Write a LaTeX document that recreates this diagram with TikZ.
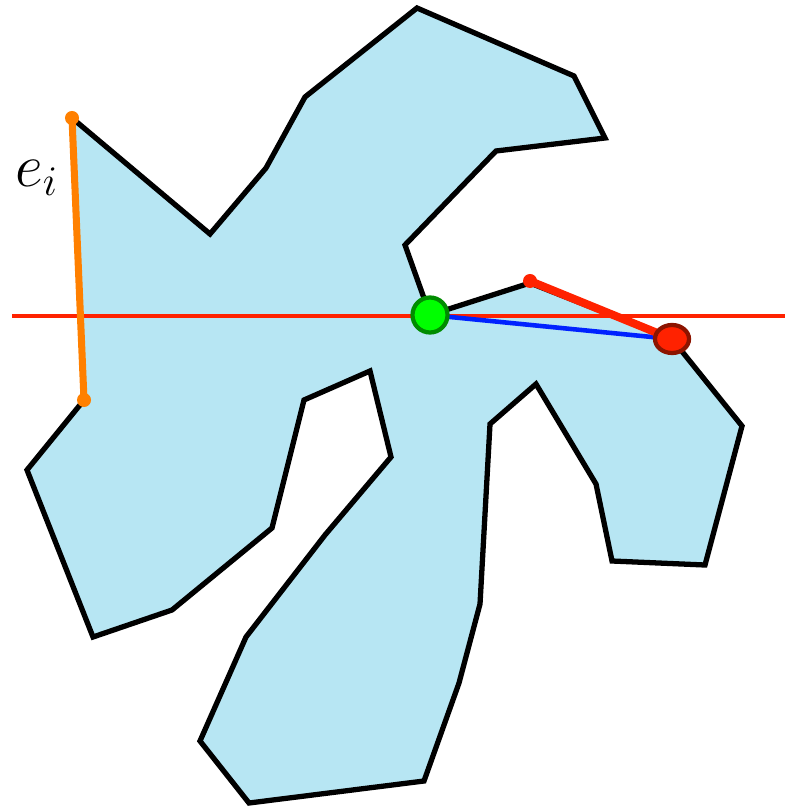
\documentclass[tikz,border=0pt]{standalone}
\usepackage{amsmath,amssymb}
\usepackage{tikz}
\usetikzlibrary{calc}
\usetikzlibrary{shapes.geometric}

\definecolor{polyfill}{RGB}{183,230,243}
\definecolor{sweepred}{RGB}{255,34,0}
\definecolor{edgeorange}{RGB}{255,128,0}
\definecolor{chordblue}{RGB}{0,34,255}
\definecolor{pivotgreen}{RGB}{0,255,0}
\definecolor{pivotdark}{RGB}{0,140,0}
\definecolor{hitdark}{RGB}{140,20,0}

\begin{document}
\begin{tikzpicture}[x=0.01cm, y=-0.01cm,
    pivot/.style={circle, draw=pivotdark, line width=1.2pt, fill=pivotgreen, minimum size=0.35cm, inner sep=0pt},
    hitpt/.style={ellipse, draw=hitdark, line width=1.2pt, fill=sweepred, minimum width=0.34cm, minimum height=0.28cm, inner sep=0pt},
    enddot/.style={circle, fill=#1, minimum size=0.14cm, inner sep=0pt}]

\useasboundingbox (0,0) rectangle (792,807);

% --- THE POLYGON ---
\filldraw[fill=polyfill, draw=black, line width=1.5pt]
    (72,118) -- (210,234) -- (266,168) -- (305,97) -- (417,8) -- (574,76)
    -- (605,138) -- (496,151) -- (405,245) -- (430,315) -- (530,283)
    -- (672,339) -- (742,426) -- (705,565) -- (612,561) -- (596,484)
    -- (536,384) -- (490,424) -- (480,604) -- (459,683) -- (424,781)
    -- (249,803) -- (200,741) -- (246,637) -- (325,535) -- (391,457)
    -- (370,371) -- (304,400) -- (272,528) -- (172,610) -- (93,637)
    -- (27,470) -- (84,400) -- cycle;

% --- POSITIONS ---
\coordinate (sl) at (12,316);
\coordinate (sr) at (785,316);
\coordinate (pv) at (430,315);
\coordinate (pw) at (672,339);
\coordinate (pu) at (530,281);
\coordinate (pa) at (72,118);
\coordinate (pb) at (84,400);

% --- SWEEP LINE AND SEGMENTS ---
\draw[sweepred, line width=1.3pt] (sl) -- (sr);
\draw[chordblue, line width=1.3pt] (pv) -- (pw);
\draw[sweepred, line width=2.3pt] (pu) -- (pw);
\draw[edgeorange, line width=2pt] (pa) -- (pb);

% --- POINTS ---
\node[enddot=edgeorange] (ea) at (pa) {};
\node[enddot=edgeorange] (eb) at (pb) {};
\node[enddot=sweepred] (u) at (pu) {};
\node[hitpt] (w) at (pw) {};
\node[pivot] (v) at (pv) {};

% --- EDGE LABEL ---
\node[font=\fontsize{18}{21}\selectfont] (ei) at (37,178) {$e_i$};

\end{tikzpicture}
\end{document}
